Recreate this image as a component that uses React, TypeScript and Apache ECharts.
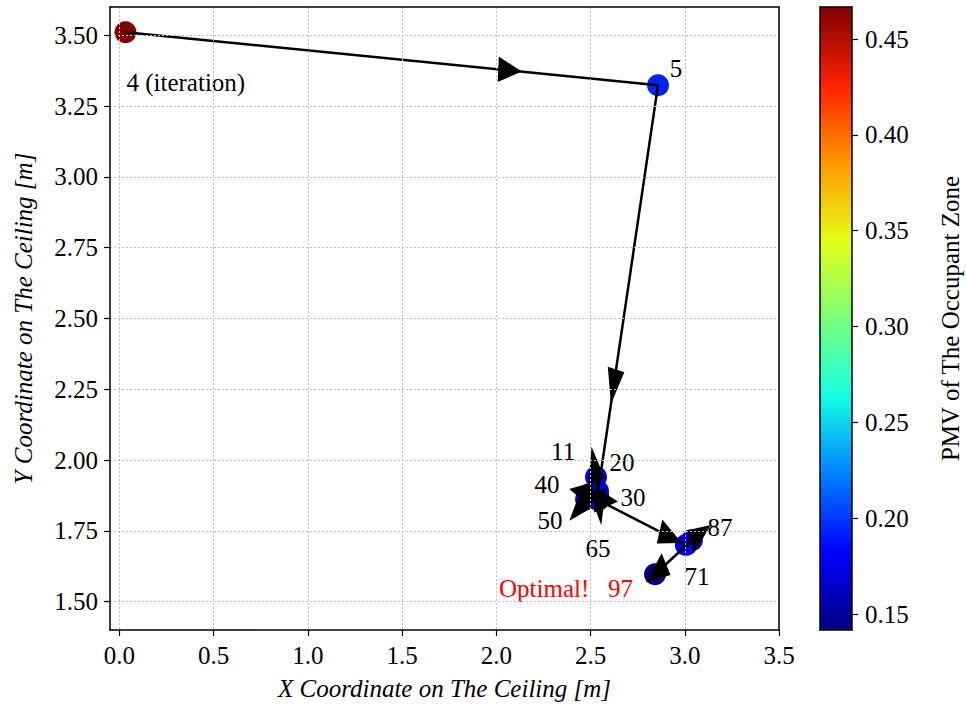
import React, { useEffect, useRef } from "react";
import * as echarts from "echarts";

// ---- data ----
const iterations = [4, 5, 11, 20, 30, 40, 50, 65, 71, 87, 97];
const xCoords = [0.032, 2.858, 2.54, 2.529, 2.54, 2.497, 2.476, 2.54, 3.006, 3.038, 2.842];
const yCoords = [3.511, 3.324, 1.89, 1.94, 1.873, 1.88, 1.862, 1.859, 1.7, 1.717, 1.597];
const pmvValues = [0.466, 0.193, 0.178, 0.176, 0.174, 0.18, 0.172, 0.17, 0.178, 0.175, 0.142];
const pointLabels = ["4 (iteration)", "5", "11", "20", "30", "40", "50", "65", "71", "87", "Optimal!   97"];
const xTicks = [0, 0.5, 1, 1.5, 2, 2.5, 3, 3.5];
const yTicks = [1.5, 1.75, 2, 2.25, 2.5, 2.75, 3, 3.25, 3.5];
const pmvTicks = [0.15, 0.2, 0.25, 0.3, 0.35, 0.4, 0.45];
const xRange = [-0.05, 3.5];
const yRange = [1.4, 3.6];
const pmvRange = [0.1417, 0.4667];

// ---- label styling (offsets in px from point centre) ----
const labelStyle: { align: string; offset: number[]; color?: string }[] = [
  { align: "left", offset: [1, 50] },
  { align: "center", offset: [18, -17] },
  { align: "center", offset: [-35, -40] },
  { align: "center", offset: [26, -15] },
  { align: "center", offset: [35, 1] },
  { align: "center", offset: [-43, -10] },
  { align: "center", offset: [-36, 21] },
  { align: "center", offset: [0, 48] },
  { align: "center", offset: [11, 31] },
  { align: "center", offset: [28, -13] },
  { align: "right", offset: [-22, 14], color: "#ff0000" },
];

// jet colormap samples
const jet = ["#000080", "#0000ff", "#0080ff", "#14ffe3", "#7bff7b", "#e3ff14", "#ff9700", "#ff2100", "#800000"];

const FONT = "'Liberation Serif', 'DejaVu Serif', serif";
const FS = 25;
const HEAD_POS = 0.7;
const HEAD_LEN = 0.125;
const HEAD_W = 0.09;

export default function App() {
  const ref = useRef<HTMLDivElement>(null);
  useEffect(() => {
    if (!ref.current) return;
    const chart = echarts.init(ref.current, undefined, { renderer: "svg" });

    const scatterData = iterations.map((it, i) => ({
      value: [xCoords[i], yCoords[i], pmvValues[i]],
      label: {
        show: true,
        formatter: pointLabels[i],
        position: "inside",
        align: labelStyle[i].align,
        verticalAlign: "middle",
        offset: labelStyle[i].offset,
        color: labelStyle[i].color || "#000",
        fontFamily: FONT,
        fontSize: FS,
      },
    }));

    const segments = iterations.slice(0, -1).map((_, i) => [xCoords[i], yCoords[i], xCoords[i + 1], yCoords[i + 1]]);

    const gridLine = { show: true, lineStyle: { color: "#c0c0c0", type: [2, 2], width: 1 } };
    const axisLabelStyle = { color: "#000", fontFamily: FONT, fontSize: FS };
    const frame = (z: number) => ({
      axisLine: { show: true, onZero: false, lineStyle: { color: "#000", width: 1.5 } },
      axisTick: { show: false }, axisLabel: { show: false }, splitLine: { show: false }, z,
    });

    chart.setOption({
      animation: false,
      textStyle: { fontFamily: FONT },
      grid: [
        { left: 110, top: 7, width: 669, height: 623 },
        { left: 820, top: 7, width: 32, height: 623 },
      ],
      xAxis: [
        {
          gridIndex: 0, type: "value", min: xRange[0], max: xRange[1], position: "bottom",
          axisLine: { show: true, onZero: false, lineStyle: { color: "#000", width: 1.5 } },
          axisTick: { show: true, customValues: xTicks, length: 6, lineStyle: { color: "#000", width: 1.2 } },
          axisLabel: { customValues: xTicks, formatter: (v: number) => v.toFixed(1), margin: 13, ...axisLabelStyle },
          splitLine: gridLine,
          name: "X Coordinate on The Ceiling [m]", nameLocation: "middle", nameGap: 46,
          nameTextStyle: { color: "#000", fontFamily: FONT, fontStyle: "italic", fontSize: FS },
          z: 5,
        },
        { gridIndex: 0, type: "value", min: xRange[0], max: xRange[1], position: "top", ...frame(5) },
        { gridIndex: 1, type: "value", min: 0, max: 1, position: "bottom", ...frame(10) },
        { gridIndex: 1, type: "value", min: 0, max: 1, position: "top", ...frame(10) },
      ],
      yAxis: [
        {
          gridIndex: 0, type: "value", min: yRange[0], max: yRange[1], position: "left",
          axisLine: { show: true, onZero: false, lineStyle: { color: "#000", width: 1.5 } },
          axisTick: { show: true, customValues: yTicks, length: 6, lineStyle: { color: "#000", width: 1.2 } },
          axisLabel: { customValues: yTicks, formatter: (v: number) => v.toFixed(2), margin: 12, ...axisLabelStyle },
          splitLine: gridLine,
          name: "Y Coordinate on The Ceiling [m]", nameLocation: "middle", nameGap: 74,
          nameTextStyle: { color: "#000", fontFamily: FONT, fontStyle: "italic", fontSize: FS },
          z: 5,
        },
        { gridIndex: 0, type: "value", min: yRange[0], max: yRange[1], position: "right", ...frame(5) },
        {
          gridIndex: 1, type: "value", min: pmvRange[0], max: pmvRange[1], position: "right",
          axisLine: { show: true, onZero: false, lineStyle: { color: "#000", width: 1.5 } },
          axisTick: { show: true, customValues: pmvTicks, length: 6, lineStyle: { color: "#000", width: 1.2 } },
          axisLabel: { customValues: pmvTicks, formatter: (v: number) => v.toFixed(2), margin: 13, ...axisLabelStyle },
          splitLine: { show: false },
          name: "PMV of The Occupant Zone", nameLocation: "middle", nameGap: 86, nameRotate: 90,
          nameTextStyle: { color: "#000", fontFamily: FONT, fontSize: FS },
          z: 10,
        },
        { gridIndex: 1, type: "value", min: pmvRange[0], max: pmvRange[1], position: "left", ...frame(10) },
      ],
      visualMap: {
        type: "continuous",
        min: pmvRange[0], max: pmvRange[1],
        dimension: 2, seriesIndex: 0,
        calculable: false, hoverLink: false,
        orient: "vertical", left: 820, top: 7,
        itemWidth: 32, itemHeight: 623, padding: 0,
        inRange: { color: jet },
      },
      series: [
        {
          type: "scatter", xAxisIndex: 0, yAxisIndex: 0,
          symbolSize: 22, data: scatterData, z: 2,
          itemStyle: { opacity: 1 },
        },
        {
          type: "custom", xAxisIndex: 0, yAxisIndex: 0, z: 3,
          data: segments,
          encode: { x: [0, 2], y: [1, 3] },
          renderItem: (_p: any, api: any) => {
            const x1 = api.value(0), y1 = api.value(1), x2 = api.value(2), y2 = api.value(3);
            const p1 = api.coord([x1, y1]);
            const p2 = api.coord([x2, y2]);
            const dx = x2 - x1, dy = y2 - y1;
            const len = Math.hypot(dx, dy) || 1;
            const ux = dx / len, uy = dy / len;
            const nx = -uy, ny = ux;
            const bx = x1 + HEAD_POS * dx, by = y1 + HEAD_POS * dy;
            const tip = api.coord([bx + HEAD_LEN * ux, by + HEAD_LEN * uy]);
            const l = api.coord([bx + (HEAD_W / 2) * nx, by + (HEAD_W / 2) * ny]);
            const r = api.coord([bx - (HEAD_W / 2) * nx, by - (HEAD_W / 2) * ny]);
            return {
              type: "group",
              children: [
                { type: "line", shape: { x1: p1[0], y1: p1[1], x2: p2[0], y2: p2[1] }, style: { stroke: "#000", lineWidth: 2.5 } },
                { type: "polygon", shape: { points: [l, tip, r] }, style: { fill: "#000" } },
              ],
            };
          },
        },
      ],
    });
    return () => chart.dispose();
  }, []);
  return <div ref={ref} style={{ position: "absolute", left: 0, top: 0, width: 966, height: 706 }} />;
}
